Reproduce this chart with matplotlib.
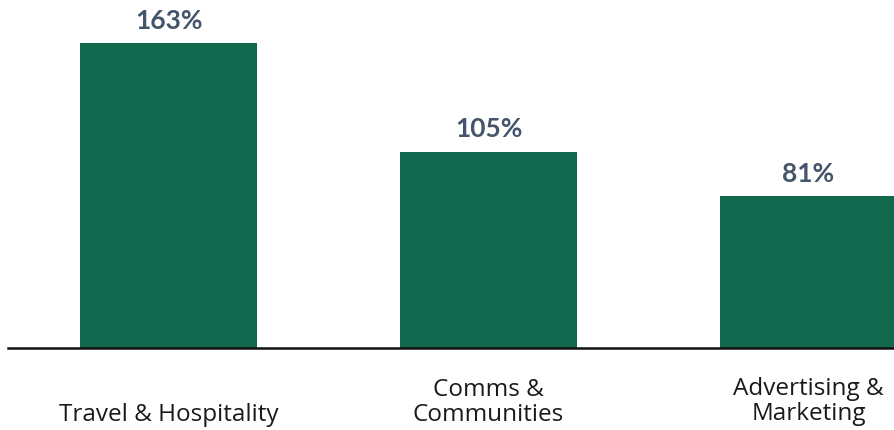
import matplotlib
matplotlib.use("Agg")
import matplotlib.pyplot as plt

categories = ["Travel & Hospitality", "Comms &\nCommunities", "Advertising &\nMarketing"]
values = [163, 105, 81]
value_labels = ["163%", "105%", "81%"]

bar_color = "#11684D"
label_color = "#44546A"

plt.rcParams['font.family'] = ['Lato', 'DejaVu Sans']

fig = plt.figure(figsize=(8.94, 4.31), dpi=100)
ax = fig.add_axes([8/894, 82/431, 886/894, 349/431])

x = list(range(len(categories)))
ax.bar(x, values, width=0.553, color=bar_color, zorder=2)
ax.set_xlim(-0.5016, 2.267)
ax.set_ylim(0, 186.5)

for xi, v, lab in zip(x, values, value_labels):
    ax.annotate(lab, (xi, v), xytext=(0, 8), textcoords="offset points",
                ha="center", va="bottom", fontsize=19, fontweight="bold",
                color=label_color)

label_dy = [-51.8, -51.5, -51.0]
for xi, cat, ly in zip(x, categories, label_dy):
    ax.annotate(cat, (xi, 0), xytext=(0, ly), textcoords="offset points",
                ha="center", va="baseline", fontsize=17.5, color="#1a1a1a",
                family=['Open Sans', 'DejaVu Sans'],
                linespacing=1.03, annotation_clip=False)

for s in ["top", "right", "left"]:
    ax.spines[s].set_visible(False)
ax.spines["bottom"].set_linewidth(1.8)
ax.spines["bottom"].set_color("#111111")
ax.set_xticks([])
ax.set_yticks([])

fig.savefig("out.png", dpi=100)
